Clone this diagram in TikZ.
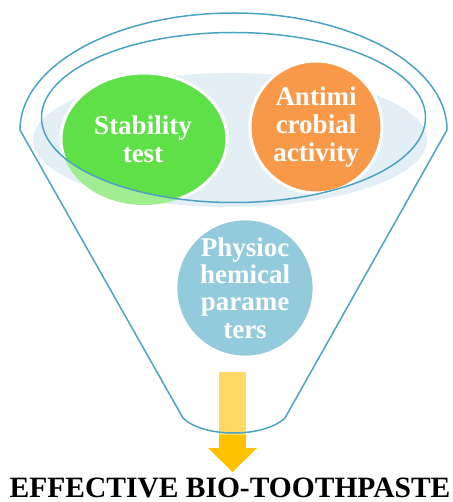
\documentclass[tikz,border=0pt]{standalone}
\usepackage{fontspec}
\setmainfont{Liberation Serif}
\usepackage{tikz}
\usetikzlibrary{shapes.geometric}
\definecolor{funnelblue}{RGB}{75,163,196}
\definecolor{discblue}{RGB}{227,239,245}
\definecolor{stabgreen}{RGB}{95,224,72}
\definecolor{stablight}{RGB}{161,237,145}
\definecolor{antiorange}{RGB}{247,153,72}
\definecolor{physblue}{RGB}{147,203,220}
\definecolor{shaftyellow}{RGB}{254,217,102}
\definecolor{headgold}{RGB}{255,192,0}
\tikzset{
	rim/.style={draw=funnelblue, line width=1.5pt, line join=round},
	ball/.style={circle, minimum size=132pt, inner sep=0pt},
	balltext/.style={text=white, align=center, font=\fontsize{27}{28}\selectfont\bfseries},
}

\begin{document}
\begin{tikzpicture}[x=1pt,y=-1pt]
\useasboundingbox (0,0) rectangle (452,502);
% pale disc in the mouth of the funnel
\fill[discblue] (230,140) ellipse[x radius=197, y radius=67];
% green ball, paler below the rim
\fill[stablight] (144,139) ellipse[x radius=83, y radius=66];
\begin{scope}
\clip (233.5,117.5) ellipse[x radius=192, y radius=85];
\filldraw[fill=stabgreen, draw=white, line width=3pt] (144,139) ellipse[x radius=83, y radius=66];
\end{scope}
\node[balltext] (stab) at (143,139) {Stability\\test};
\node[ball, balltext, fill=antiorange, draw=white, line width=3pt] (anti) at (316,127) {Antimi\\crobial\\activity};
% inner rim
\draw[rim] (233.5,117.5) ellipse[x radius=192, y radius=85];
\node[ball, balltext, fill=physblue, font=\fontsize{27}{27.3}\selectfont\bfseries] (phys) at (245,288) {Physioc\\hemical\\parame\\ters};
% arrow out of the spout
\fill[headgold] (219,430) rectangle (246,449);
\fill[headgold] (208,448) -- (257,448) -- (232.5,472) -- cycle;
\fill[shaftyellow] (219,372) rectangle (246,435);
% funnel body
\draw[rim] (20,130) -- (183,418) .. controls (203,438) and (264,438) .. (285,418) -- (447,130) arc[start angle=0, end angle=-180, x radius=213.5, y radius=117] -- cycle;
\node[anchor=base, inner sep=0pt, font=\fontsize{29.5}{30}\selectfont\bfseries] (title) at (230,497) {EFFECTIVE BIO-TOOTHPASTE};
\end{tikzpicture}
\end{document}
